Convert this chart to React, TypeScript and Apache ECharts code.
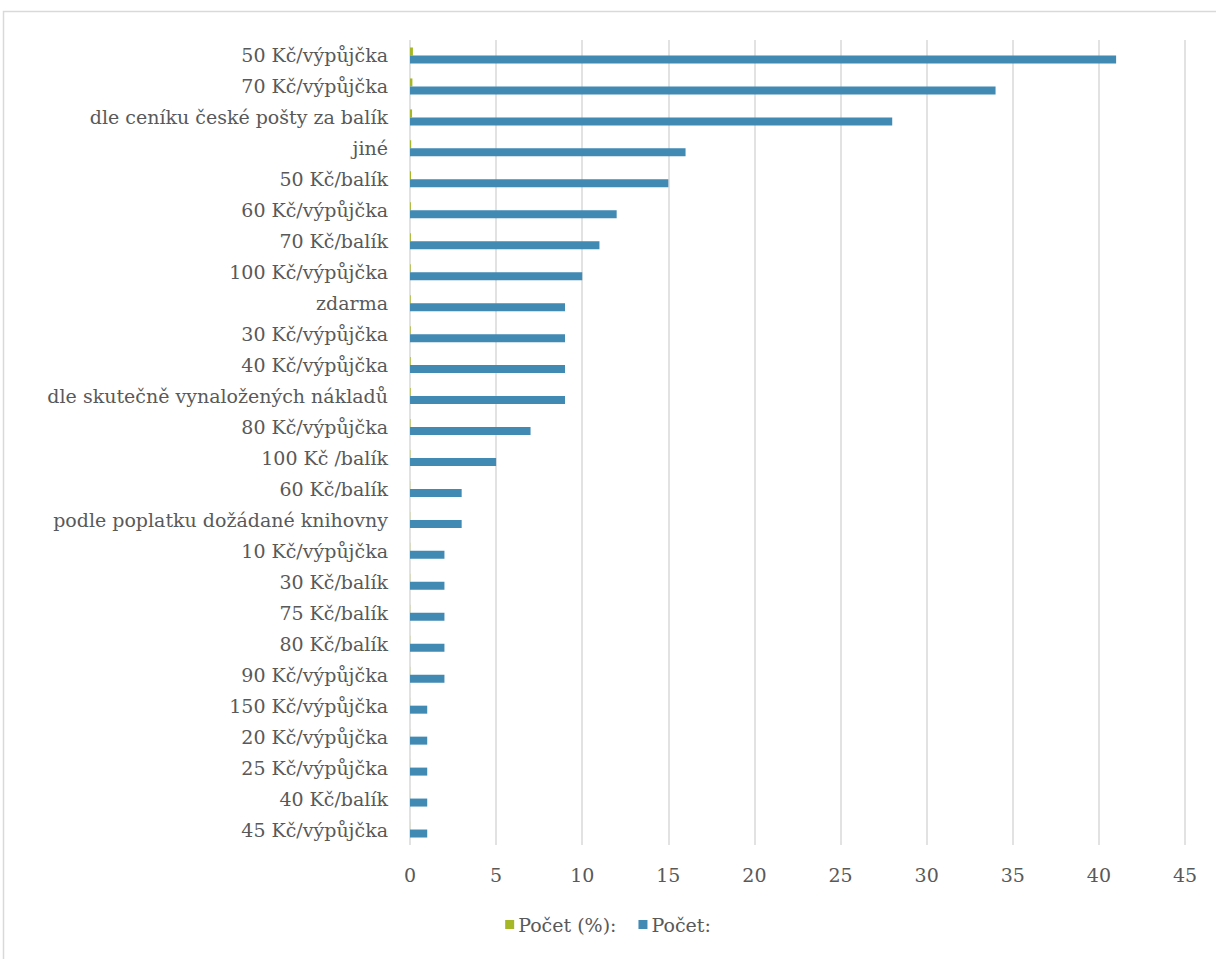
import React, { useEffect, useRef } from "react";
import * as echarts from "echarts";

const categories = [
  "50 Kč/výpůjčka",
  "70 Kč/výpůjčka",
  "dle ceníku české pošty za balík",
  "jiné",
  "50 Kč/balík",
  "60 Kč/výpůjčka",
  "70 Kč/balík",
  "100 Kč/výpůjčka",
  "zdarma",
  "30 Kč/výpůjčka",
  "40 Kč/výpůjčka",
  "dle skutečně vynaložených nákladů",
  "80 Kč/výpůjčka",
  "100 Kč /balík",
  "60 Kč/balík",
  "podle poplatku dožádané knihovny",
  "10 Kč/výpůjčka",
  "30 Kč/balík",
  "75 Kč/balík",
  "80 Kč/balík",
  "90 Kč/výpůjčka",
  "150 Kč/výpůjčka",
  "20 Kč/výpůjčka",
  "25 Kč/výpůjčka",
  "40 Kč/balík",
  "45 Kč/výpůjčka",
];

const pocetPct = [
  0.17, 0.14, 0.12, 0.07, 0.06, 0.05, 0.05, 0.04, 0.04, 0.04, 0.04, 0.04, 0.03,
  0.02, 0.01, 0.01, 0.01, 0.01, 0.01, 0.01, 0.01, 0.004, 0.004, 0.004, 0.004, 0.004,
];

const pocet = [
  41, 34, 28, 16, 15, 12, 11, 10, 9, 9, 9, 9, 7, 5, 3, 3, 2, 2, 2, 2, 2, 1, 1, 1, 1, 1,
];

const xTicks = { min: 0, max: 45, interval: 5 };

const FONT = "DejaVu Serif";
const TEXT = "#595959";
const FS = 19;

export default function App() {
  const ref = useRef<HTMLDivElement>(null);
  useEffect(() => {
    if (!ref.current) return;
    const chart = echarts.init(ref.current, undefined, { renderer: "svg" });
    chart.setOption({
      animation: false,
      backgroundColor: "#ffffff",
      textStyle: { fontFamily: FONT },
      graphic: [
        {
          type: "rect",
          shape: { x: 3.5, y: 11.5, width: 1300, height: 1000 },
          style: { fill: "none", stroke: "#d9d9d9", lineWidth: 1.5 },
          silent: true,
        },
      ],
      grid: { left: 410, right: 31, top: 40, bottom: 114, containLabel: false },
      legend: {
        bottom: 20,
        left: "center",
        itemWidth: 9,
        itemHeight: 9,
        itemGap: 22,
        icon: "rect",
        textStyle: { color: TEXT, fontSize: FS, fontFamily: FONT, padding: [0, 0, 0, -1] },
        data: ["Počet (%):", "Počet:"],
      },
      xAxis: {
        type: "value",
        min: xTicks.min,
        max: xTicks.max,
        interval: xTicks.interval,
        axisLine: { show: false },
        axisTick: { show: false },
        splitLine: { show: true, lineStyle: { color: "#d9d9d9", width: 1.5 } },
        axisLabel: { color: TEXT, fontSize: FS, fontFamily: FONT, margin: 20 },
      },
      yAxis: {
        type: "category",
        inverse: true,
        data: categories,
        axisLine: { show: false },
        axisTick: { show: false },
        axisLabel: { color: TEXT, fontSize: FS, fontFamily: FONT, margin: 22 },
      },
      series: [
        {
          name: "Počet (%):",
          type: "bar",
          data: pocetPct,
          barWidth: 8,
          barGap: "0%",
          itemStyle: { color: "#A5B727" },
        },
        {
          name: "Počet:",
          type: "bar",
          data: pocet,
          barWidth: 8,
          barGap: "0%",
          itemStyle: { color: "#418AB3" },
        },
      ],
    });
    return () => chart.dispose();
  }, []);
  return (
    <div
      ref={ref}
      style={{ position: "absolute", left: 0, top: 0, width: 1216, height: 959 }}
    />
  );
}
